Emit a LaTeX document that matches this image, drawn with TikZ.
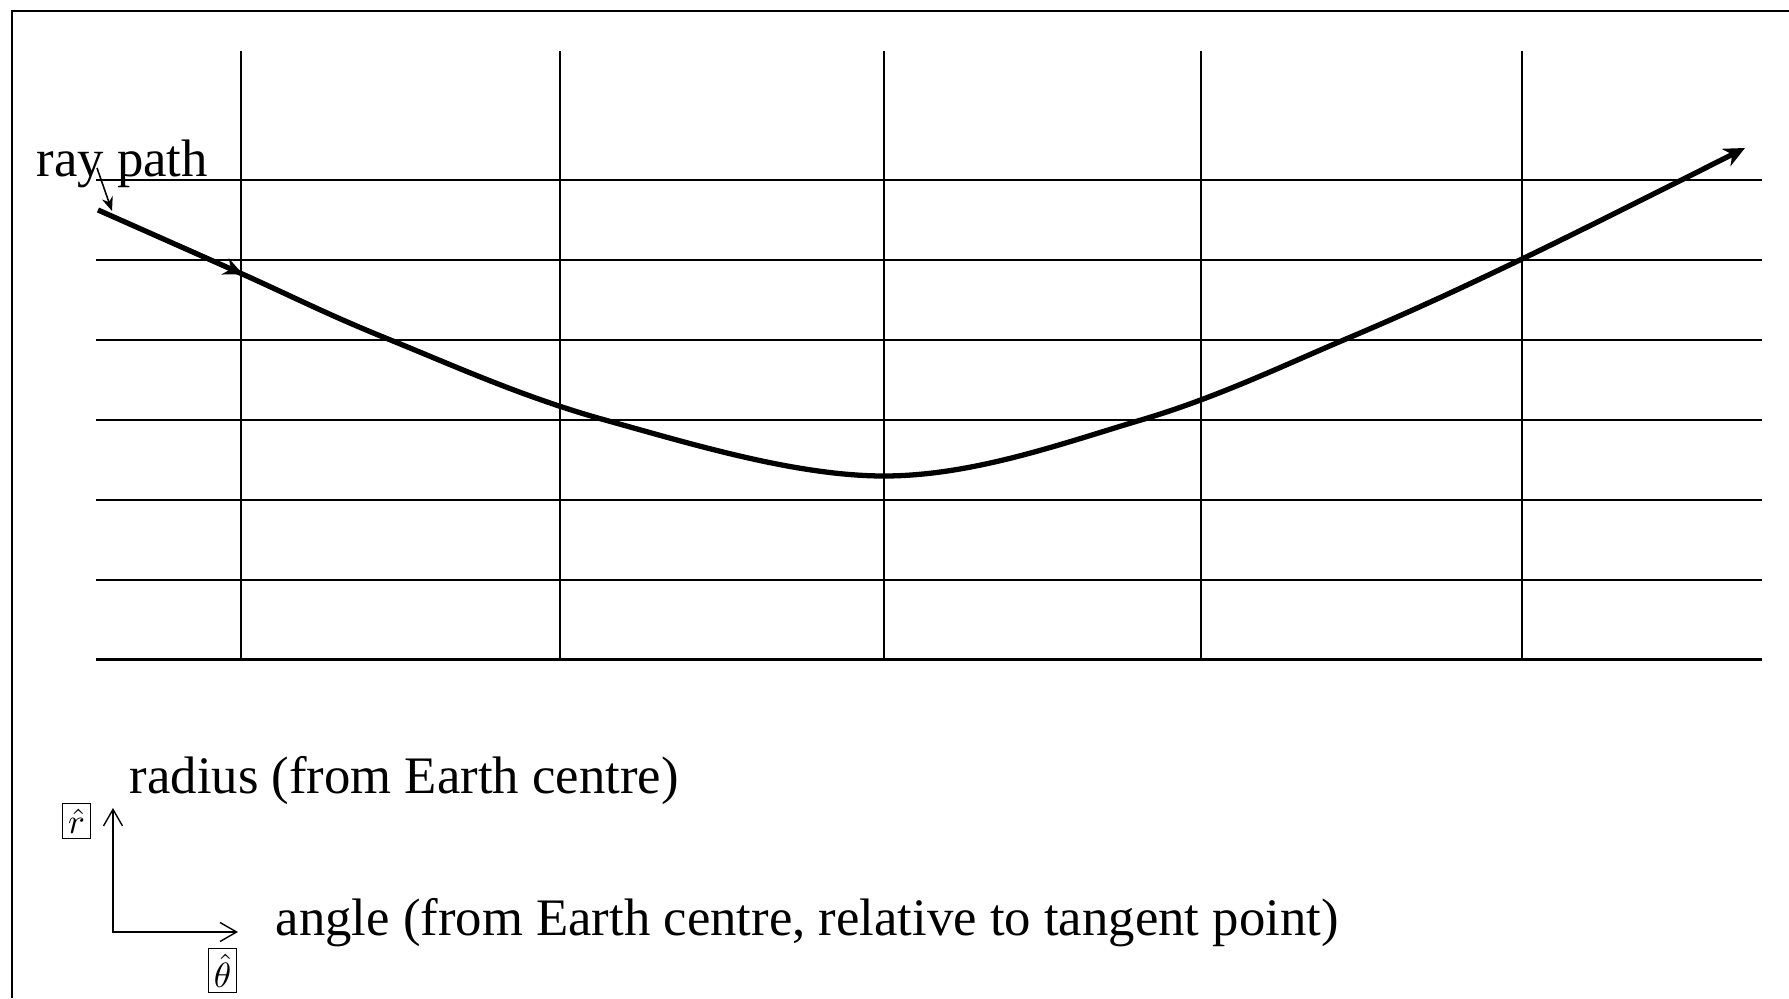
\documentclass[tikz,border=0pt]{standalone}
\usepackage{fontspec}
\setmainfont{Liberation Serif}
\usetikzlibrary{arrows.meta,decorations.markings}

\begin{document}
\begin{tikzpicture}[
    >=Stealth,
    grid/.style={line width=0.6pt},
    ray/.style={line width=1.5pt},
    tip/.style={-{Stealth[length=6pt,width=5.5pt]}},
    axis/.style={line width=0.4pt,
      {Straight Barb[length=4.7pt,width=5.4pt]}-{Straight Barb[length=4.7pt,width=5.4pt]}},
    unitvec/.style={draw, line width=0.3pt, inner sep=1.5pt, font=\fontsize{10}{12}\selectfont},
    lbl/.style={anchor=base west, inner sep=0pt, font=\fontsize{15}{18}\selectfont}]

  \useasboundingbox (0,0) rectangle (17.89,9.98);
  \draw[line width=0.6pt] (0.12,0) -- (0.12,9.867) -- (17.89,9.867);

  % shells (radius) and angle steps
  \foreach \y in {8.177,7.378,6.580,5.781,4.982,4.183,3.385}
    \draw[grid] (0.96,\y) -- (17.62,\y);
  \foreach \x in {2.407,5.602,8.843,12.014,15.220}
    \draw[grid] (\x,3.385) -- (\x,9.47);

  % the ray
  \draw[ray, tip, postaction={decorate},
    decoration={markings, mark=at position 0.09 with {\arrow{Stealth[length=5.5pt,width=5pt]}}}]
    plot[smooth, tension=0.6] coordinates {
      (0.98,7.88) (2.40,7.25) (3.88,6.59) (6.05,5.78)
      (8.84,5.22) (11.41,5.78) (13.46,6.59) (15.22,7.39) (17.45,8.50)};

  \node[lbl] (raylbl) at (0.36,8.21) {ray path};
  \coordinate (raytail) at (0.97,8.30);
  \coordinate (raytip) at (1.12,7.87);
  \draw[line width=0.45pt, -{Stealth[length=4pt,width=3.2pt]}] (raytail) -- (raytip);

  % unit vectors
  \coordinate (origin) at (1.13,0.66);
  \coordinate (rtip) at (1.13,1.90);
  \coordinate (thtip) at (2.38,0.66);
  \draw[axis] (rtip) -- (origin) -- (thtip);
  \node[unitvec] (rhat) at (0.765,1.77) {$\hat{r}$};
  \node[unitvec] (thhat) at (2.225,0.275) {$\hat{\theta}$};

  \node[lbl] (radlbl) at (1.29,2.05) {radius (from Earth centre)};
  \node[lbl] (anglbl) at (2.75,0.63) {angle (from Earth centre, relative to tangent point)};
\end{tikzpicture}
\end{document}
